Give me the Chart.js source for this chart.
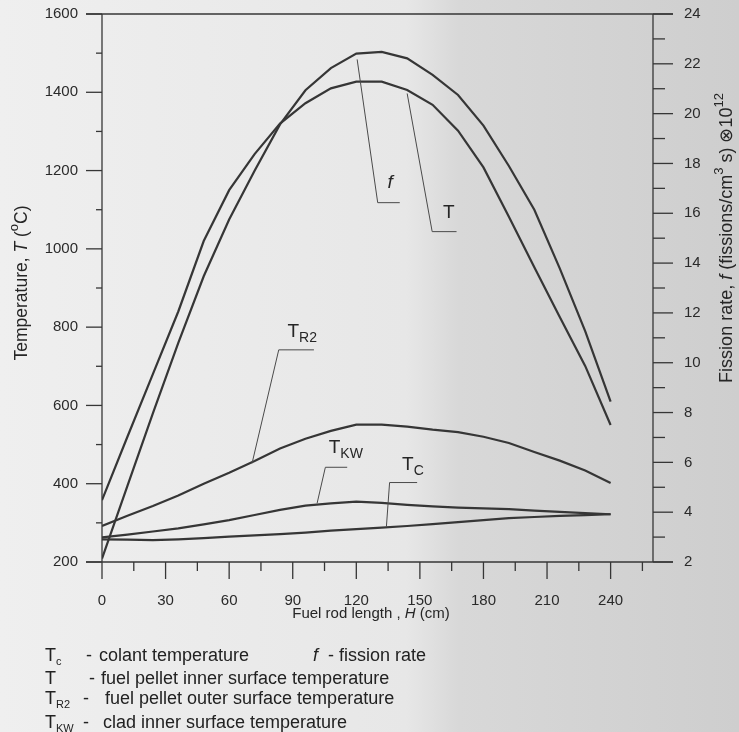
<!DOCTYPE html>
<html>
<head>
<meta charset="utf-8">
<script src="https://cdn.jsdelivr.net/npm/chart.js@4.4.0/dist/chart.umd.min.js"></script>
<style>
  html, body { margin: 0; padding: 0; }
  body {
    width: 739px; height: 732px; overflow: hidden; position: relative;
    background: linear-gradient(to right, #efefef 0%, #e7e7e7 55%, #d8d8d8 62%, #cecece 100%);
    font-family: "Liberation Sans", Arial, sans-serif; color: #222;
  }
  #chart { position: absolute; left: 0; top: 0; }
  .leg { position: absolute; left: 0; width: 739px; height: 20px; font-size: 18px; line-height: 20px; }
  .leg span { position: absolute; top: 0; white-space: nowrap; }
  .leg sub { font-size: 11px; vertical-align: -4px; }
</style>
</head>
<body>
<canvas id="chart" width="739" height="732"></canvas>

<div class="leg" style="top:645px">
  <span style="left:45px">T<sub>c</sub></span><span style="left:86px">-</span><span style="left:99px">colant temperature</span>
  <span style="left:313px"><i>f</i></span><span style="left:328px">- fission rate</span>
</div>
<div class="leg" style="top:668px">
  <span style="left:45px">T</span><span style="left:89px">-</span><span style="left:101px">fuel pellet inner surface temperature</span>
</div>
<div class="leg" style="top:688px">
  <span style="left:45px">T<sub>R2</sub></span><span style="left:83px">-</span><span style="left:105px">fuel pellet outer surface temperature</span>
</div>
<div class="leg" style="top:712px">
  <span style="left:45px">T<sub>KW</sub></span><span style="left:83px">-</span><span style="left:103px">clad inner surface temperature</span>
</div>

<script>
// fuel rod length, cm
const heights = [0, 12, 24, 36, 48, 60, 72, 84, 96, 108, 120, 132, 144, 156, 168, 180, 192, 204, 216, 228, 240];

// temperatures, oC
const tInner   = [358, 520, 680, 840, 1020, 1150, 1242, 1320, 1372, 1410, 1427, 1427, 1406, 1368, 1302, 1208, 1082, 953, 826, 701, 550];
const tOuter   = [292, 318, 343, 370, 400, 428, 458, 490, 515, 535, 551, 551, 546, 538, 532, 520, 504, 481, 459, 434, 402];
const tClad    = [263, 270, 278, 286, 296, 307, 320, 333, 344, 350, 354, 351, 346, 342, 339, 337, 335, 331, 328, 325, 322];
const tCoolant = [258, 257, 256, 258, 261, 265, 268, 271, 275, 280, 284, 288, 292, 297, 302, 307, 312, 315, 318, 320, 322];

// fission rate, 10^12 fissions/(cm3 s)
const fission = [2.14, 5.06, 7.97, 10.8, 13.47, 15.75, 17.71, 19.57, 20.94, 21.83, 22.41, 22.48, 22.22, 21.56, 20.75, 19.52, 17.9, 16.14, 13.79, 11.27, 8.44];

// axis ticks
const xLabels = [0, 30, 60, 90, 120, 150, 180, 210, 240];
const xMinorStep = 15;
const xMax = 260;

const FAM = '"Liberation Sans", Arial, sans-serif';
const INK = '#363636';

function pts(ys) {
  return heights.map((h, i) => ({ x: h, y: ys[i] }));
}

function line(ctx, x1, y1, x2, y2) {
  ctx.beginPath();
  ctx.moveTo(x1, y1);
  ctx.lineTo(x2, y2);
  ctx.stroke();
}

// draws text made of parts: [text, style] with style '', 'i', 'sup', 'sub'
function richText(ctx, parts, x, y, size, align) {
  const fontFor = p => (p[1] === 'i' ? 'italic ' : '') +
    ((p[1] === 'sup' || p[1] === 'sub') ? Math.round(size * 0.72) : size) + 'px ' + FAM;
  let w = 0;
  parts.forEach(p => { ctx.font = fontFor(p); w += ctx.measureText(p[0]).width; });
  let cx = align === 'center' ? x - w / 2 : x;
  ctx.textAlign = 'left';
  ctx.textBaseline = 'middle';
  parts.forEach(p => {
    ctx.font = fontFor(p);
    const dy = p[1] === 'sup' ? -size * 0.42 : p[1] === 'sub' ? size * 0.32 : 0;
    ctx.fillText(p[0], cx, y + dy);
    cx += ctx.measureText(p[0]).width;
  });
}

// curve labels with leader lines, in data units (x = cm, y = oC)
const callouts = [
  { parts: [['f', 'i']], at: [136, 1168], center: true, leader: [[120.4, 1484], [130.1, 1118], [140.5, 1118]] },
  { parts: [['T', '']], at: [163.6, 1092], center: true, leader: [[144, 1397], [155.8, 1044], [167.3, 1044]] },
  { parts: [['T', ''], ['R2', 'sub']], at: [87.5, 787], leader: [[70.8, 452], [83.4, 742], [100, 742]] },
  { parts: [['T', ''], ['KW', 'sub']], at: [107, 491], leader: [[101.5, 350], [105.4, 442], [115.7, 442]] },
  { parts: [['T', ''], ['C', 'sub']], at: [141.6, 448], leader: [[134.2, 290], [135.7, 403], [148.7, 403]] }
];

const decor = {
  id: 'decor',
  beforeDatasetsDraw(chart) {
    const ctx = chart.ctx;
    const xs = chart.scales.x, ys = chart.scales.y, y2 = chart.scales.y2;
    const L = xs.left, R = xs.right, T = ys.top, B = ys.bottom;
    ctx.save();
    ctx.strokeStyle = INK;
    ctx.lineWidth = 1.3;
    line(ctx, L - 16, T, R + 20, T);
    line(ctx, L - 16, B, R + 20, B);
    line(ctx, L, T, L, B);
    line(ctx, R, T, R, B);
    ys.ticks.forEach(t => {
      const py = ys.getPixelForValue(t.value);
      line(ctx, L - (t.value % 200 === 0 ? 16 : 6), py, L, py);
    });
    y2.ticks.forEach(t => {
      const py = y2.getPixelForValue(t.value);
      line(ctx, R, py, R + (t.value % 2 === 0 ? 20 : 12), py);
    });
    xs.ticks.forEach(t => {
      const px = xs.getPixelForValue(t.value);
      line(ctx, px, B, px, B + (t.value % 30 === 0 ? 17 : 9));
    });

    ctx.fillStyle = '#262626';
    // axis titles
    ctx.save();
    ctx.translate(22, 283);
    ctx.rotate(-Math.PI / 2);
    richText(ctx, [['Temperature, ', ''], ['T', 'i'], [' (', ''], ['o', 'sup'], ['C)', '']], 0, 0, 17.5, 'center');
    ctx.restore();
    ctx.save();
    ctx.translate(727, 238);
    ctx.rotate(-Math.PI / 2);
    richText(ctx, [['Fission rate, ', ''], ['f', 'i'], [' (fissions/cm', ''], ['3', 'sup'], [' s) \u229710', ''], ['12', 'sup']], 0, 0, 18, 'center');
    ctx.restore();
    richText(ctx, [['Fuel rod length , ', ''], ['H', 'i'], [' (cm)', '']], 371, 614, 15, 'center');
    ctx.restore();
  },
  afterDatasetsDraw(chart) {
    const ctx = chart.ctx;
    const xs = chart.scales.x, ys = chart.scales.y;
    ctx.save();
    ctx.strokeStyle = '#4a4a4a';
    ctx.lineWidth = 1;
    ctx.fillStyle = '#262626';
    callouts.forEach(c => {
      ctx.beginPath();
      c.leader.forEach((p, i) => {
        const px = xs.getPixelForValue(p[0]), py = ys.getPixelForValue(p[1]);
        if (i === 0) ctx.moveTo(px, py); else ctx.lineTo(px, py);
      });
      ctx.stroke();
      richText(ctx, c.parts, xs.getPixelForValue(c.at[0]), ys.getPixelForValue(c.at[1]), 19, c.center ? 'center' : 'left');
    });
    ctx.restore();
  }
};

const lineStyle = { borderColor: INK, borderWidth: 2.2, pointRadius: 0, tension: 0, fill: false };

// invisible tick marks: only used to push the labels away from the axis
function hiddenGrid(len) {
  return { display: true, drawOnChartArea: false, drawTicks: true, tickLength: len, color: 'rgba(0,0,0,0)', tickColor: 'rgba(0,0,0,0)' };
}

new Chart(document.getElementById('chart'), {
  type: 'line',
  data: {
    datasets: [
      Object.assign({ label: 'T', data: pts(tInner), yAxisID: 'y' }, lineStyle),
      Object.assign({ label: 'TR2', data: pts(tOuter), yAxisID: 'y' }, lineStyle),
      Object.assign({ label: 'TKW', data: pts(tClad), yAxisID: 'y' }, lineStyle),
      Object.assign({ label: 'TC', data: pts(tCoolant), yAxisID: 'y' }, lineStyle),
      Object.assign({ label: 'f', data: pts(fission), yAxisID: 'y2' }, lineStyle)
    ]
  },
  options: {
    responsive: false,
    animation: false,
    layout: { padding: { top: 14, left: 0, right: 0, bottom: 0 } },
    plugins: { legend: { display: false }, tooltip: { enabled: false } },
    scales: {
      x: {
        type: 'linear', min: 0, max: xMax,
        grid: hiddenGrid(30), border: { display: false },
        afterBuildTicks: s => {
          const t = [];
          for (let v = 0; v < xMax; v += xMinorStep) t.push({ value: v });
          s.ticks = t;
        },
        ticks: {
          autoSkip: false, maxRotation: 0, padding: 0, color: '#2a2a2a',
          font: { family: FAM, size: 15 },
          callback: v => xLabels.includes(v) ? String(v) : ''
        },
        afterFit: s => { s.height = 170; }
      },
      y: {
        position: 'left', min: 200, max: 1600,
        grid: hiddenGrid(24), border: { display: false },
        ticks: {
          stepSize: 100, autoSkip: false, padding: 0, color: '#2a2a2a',
          font: { family: FAM, size: 15 },
          callback: v => v % 200 === 0 ? String(v) : ''
        },
        afterFit: s => { s.width = 102; }
      },
      y2: {
        position: 'right', min: 2, max: 24,
        grid: hiddenGrid(31), border: { display: false },
        ticks: {
          stepSize: 1, autoSkip: false, padding: 0, color: '#2a2a2a',
          font: { family: FAM, size: 15 },
          callback: v => v % 2 === 0 ? String(v) : ''
        },
        afterFit: s => { s.width = 86; }
      }
    }
  },
  plugins: [decor]
});
</script>
</body>
</html>
